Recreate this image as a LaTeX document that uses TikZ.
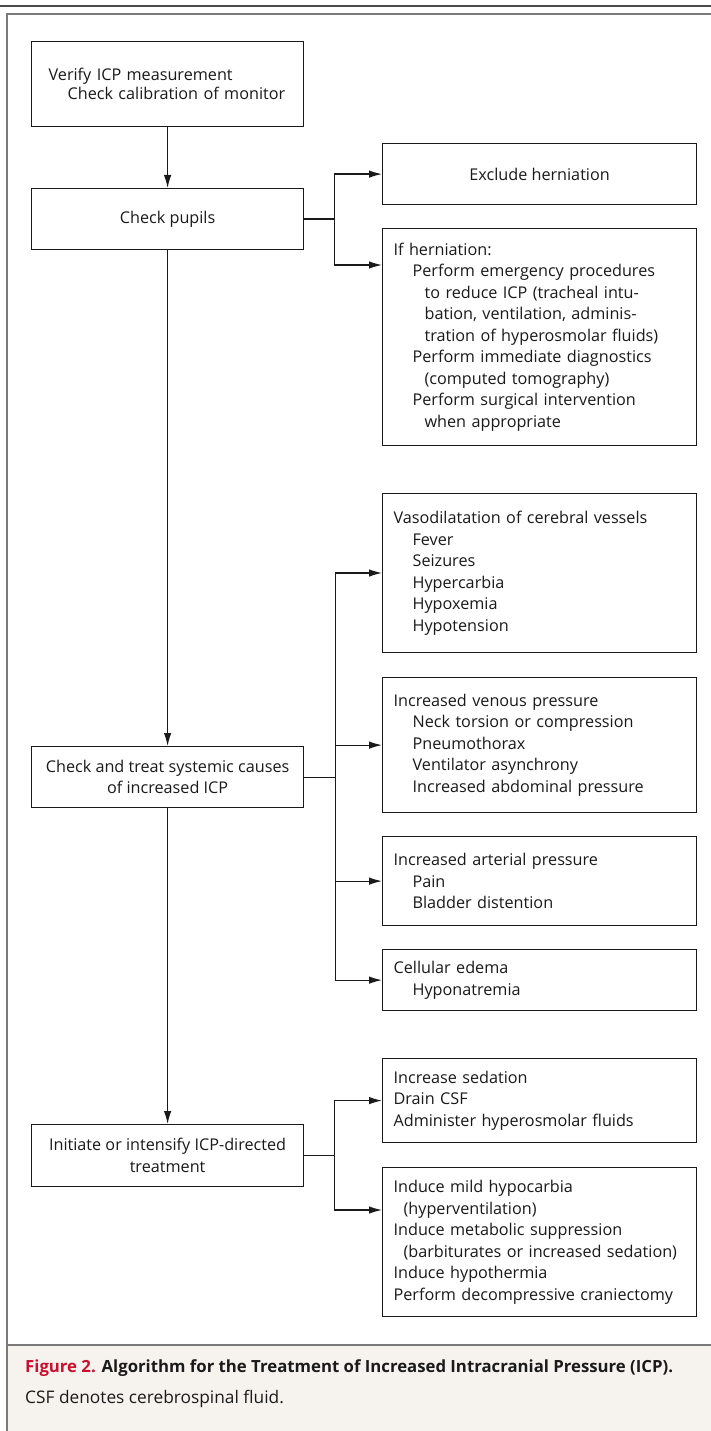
\documentclass[tikz,border=0pt]{standalone}
\usepackage{fontspec}
\setmainfont{Open Sans}
\usetikzlibrary{arrows.meta}
\definecolor{capbg}{HTML}{F6F3EE}
\definecolor{nejmred}{HTML}{C8102E}
\definecolor{framegray}{HTML}{7A7A7A}
\definecolor{topgray}{HTML}{4A4A4A}
\definecolor{ink}{HTML}{1A1A1A}
\newcommand{\ia}{\hspace*{19pt}}
\newcommand{\ib}{\hspace*{31pt}}
\newcommand{\ic}{\hspace*{10pt}}
\begin{document}
\begin{tikzpicture}[x=1pt,y=-1pt,
  txt/.style={font=\fontsize{16.2}{21.5}\selectfont, text=ink},
  lbox/.style={txt, draw=ink, line width=1.2pt, anchor=north west, inner xsep=11pt, inner ysep=0pt, text width=292pt, align=left},
  cbox/.style={txt, draw=ink, line width=1.2pt, anchor=north west, inner sep=0pt, minimum width=272pt, align=center},
  link/.style={draw=ink, line width=1.2pt},
  arr/.style={link, -{Latex[length=13pt,width=7.5pt]}},
  capt/.style={anchor=base west, inner sep=0pt, font=\fontsize{17.3}{20}\selectfont, text=ink}
]
\useasboundingbox (0,0) rectangle (711,1431);
\fill[white] (0,0) rectangle (711,1431);
% frame and caption area
\fill[capbg] (8,1346) rectangle (711,1431);
\draw[topgray, line width=2.5pt] (0,6) -- (711,6);
\draw[framegray, line width=2pt] (7,1431) -- (7,14) -- (711,14);
\draw[framegray, line width=2pt] (7,1345) -- (711,1345);

% main column
\node[txt, draw=ink, line width=1.2pt, anchor=north west, inner xsep=17pt, inner ysep=0pt, text width=238pt, minimum height=85pt, align=left, font=\fontsize{16.2}{19}\selectfont] (b1) at (31,41)
  {Verify ICP measurement\\\ia Check calibration of monitor\\[4pt]};
\node[cbox, minimum height=61pt] (b2) at (31,188) {Check pupils};
\node[cbox, minimum height=61pt] (b3) at (31,746) {Check and treat systemic causes\\of increased ICP};
\node[cbox, minimum height=62pt] (b4) at (31,1124) {Initiate or intensify ICP-directed\\treatment};

% right column
\node[txt, draw=ink, line width=1.2pt, anchor=north west, inner sep=0pt, minimum width=314pt, minimum height=61pt] (ex) at (382,143) {Exclude herniation};
\node[lbox, minimum height=217pt] (ih) at (382,228)
  {If herniation:\\
   \ia Perform emergency procedures\\
   \ib to reduce ICP (tracheal intu-\\
   \ib bation, ventilation, adminis-\\
   \ib tration of hyperosmolar fluids)\\
   \ia Perform immediate diagnostics\\
   \ib (computed tomography)\\
   \ia Perform surgical intervention\\
   \ib when appropriate};
\node[lbox, minimum height=159pt] (vd) at (382,493)
  {Vasodilatation of cerebral vessels\\
   \ia Fever\\ \ia Seizures\\ \ia Hypercarbia\\ \ia Hypoxemia\\ \ia Hypotension};
\node[lbox, minimum height=135pt] (vp) at (382,677)
  {Increased venous pressure\\
   \ia Neck torsion or compression\\ \ia Pneumothorax\\ \ia Ventilator asynchrony\\ \ia Increased abdominal pressure};
\node[lbox, minimum height=89pt] (ap) at (382,836)
  {Increased arterial pressure\\ \ia Pain\\ \ia Bladder distention};
\node[lbox, minimum height=61pt] (ce) at (382,949)
  {Cellular edema\\ \ia Hyponatremia};
\node[lbox, minimum height=84pt] (sd) at (382,1058)
  {Increase sedation\\ Drain CSF\\ Administer hyperosmolar fluids};
\node[lbox, minimum height=149pt] (hc) at (382,1167)
  {Induce mild hypocarbia\\
   \ic (hyperventilation)\\
   Induce metabolic suppression\\
   \ic (barbiturates or increased sedation)\\
   Induce hypothermia\\
   Perform decompressive craniectomy};

% vertical flow
\draw[arr] (b1.south) -- (b2.north);
\draw[arr] (b2.south) -- (b3.north);
\draw[arr] (b3.south) -- (b4.north);

% branches from Check pupils
\draw[link] (b2.east) -- ++(30,0) coordinate (j2);
\draw[arr] (j2) |- (ex.west);
\draw[arr] (j2) |- ([yshift=-37pt]ih.north west);

% branches from systemic causes
\draw[link] (b3.east) -- ++(31,0) coordinate (j3);
\draw[arr] (j3) |- ([yshift=-80pt]vd.north west);
\draw[arr] (j3) |- (vp.west);
\draw[arr] (j3) |- (ap.west);
\draw[arr] (j3) |- (ce.west);

% branches from ICP-directed treatment
\draw[link] (b4.east) -- ++(30,0) coordinate (j4);
\draw[arr] (j4) |- (sd.west);
\draw[arr] (j4) |- ([yshift=-43pt]hc.north west);

% caption
\node[capt, font=\fontsize{16.75}{20}\bfseries] (c1) at (25,1372)
  {\textcolor{nejmred}{Figure 2.} Algorithm for the Treatment of Increased Intracranial Pressure (ICP).};
\node[capt] (c2) at (25,1403) {CSF denotes cerebrospinal fluid.};
\end{tikzpicture}
\end{document}
